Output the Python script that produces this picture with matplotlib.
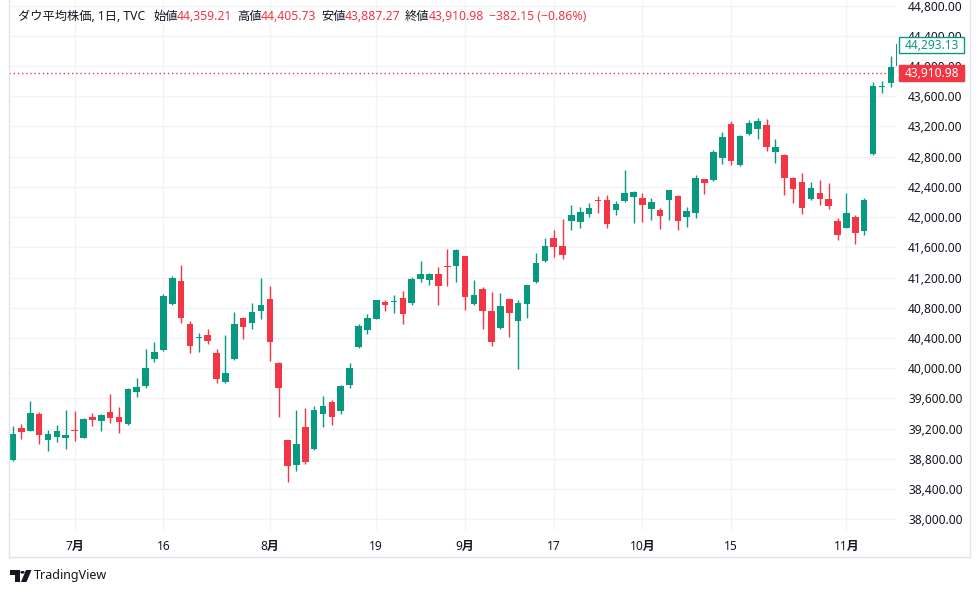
import matplotlib
matplotlib.use("Agg")
import matplotlib.pyplot as plt
from matplotlib.patches import Rectangle, Polygon, Circle
from matplotlib.lines import Line2D

plt.rcParams['font.family'] = ['Noto Sans', 'Noto Sans CJK JP', 'DejaVu Sans']

# ---------------- data (DJI daily, TVC) ----------------
dates = ["06-20", "06-21", "06-24", "06-25", "06-26", "06-27", "06-28",
         "07-01", "07-02", "07-03", "07-05", "07-08", "07-09", "07-10", "07-11", "07-12",
         "07-15", "07-16", "07-17", "07-18", "07-19", "07-22", "07-23", "07-24", "07-25",
         "07-26", "07-29", "07-30", "07-31",
         "08-01", "08-02", "08-05", "08-06", "08-07", "08-08", "08-09", "08-12", "08-13",
         "08-14", "08-15", "08-16", "08-19", "08-20", "08-21", "08-22", "08-23", "08-26",
         "08-27", "08-28", "08-29", "08-30",
         "09-03", "09-04", "09-05", "09-06", "09-09", "09-10", "09-11", "09-12", "09-13",
         "09-16", "09-17", "09-18", "09-19", "09-20", "09-23", "09-24", "09-25", "09-26",
         "09-27", "09-30",
         "10-01", "10-02", "10-03", "10-04", "10-07", "10-08", "10-09", "10-10", "10-11",
         "10-14", "10-15", "10-16", "10-17", "10-18", "10-21", "10-22", "10-23", "10-24",
         "10-25", "10-28", "10-29", "10-30", "10-31",
         "11-01", "11-04", "11-05", "11-06", "11-07", "11-08", "11-11"]

opens = [38785, 39204, 39173, 39393, 39054, 39093, 39080,
         39182, 39080, 39354, 39305, 39420, 39354, 39265, 39689, 39768,
         40126, 40245, 40853, 41154, 40585, 40400, 40439, 40204, 39821,
         40126, 40664, 40602, 40761,
         40916, 40069, 39050, 38719, 39226, 38930, 39398, 39553, 39437,
         39781, 40284, 40509, 40655, 40876, 40880, 40929, 40867, 41180,
         41171, 41247, 41345, 41356,
         41485, 40849, 41048, 40757, 40536, 40916, 40628, 40854, 41141,
         41423, 41723, 41617, 41948, 41935, 42041, 42226, 42226, 42094,
         42217, 42270,
         42253, 42111, 42094, 42230, 42279, 42005, 42058, 42504, 42495,
         42786, 43232, 42693, 43100, 43166, 43219, 42861, 42822, 42518,
         42466, 42243, 42319, 42239, 41948,
         41859, 42001, 41820, 42835, 43715, 43771, 44000]

highs = [39235, 39261, 39566, 39420, 39182, 39248, 39447,
         39433, 39345, 39407, 39398, 39658, 39490, 39738, 39870, 40254,
         40347, 40986, 41224, 41366, 40625, 40470, 40519, 40254, 40439,
         40744, 40681, 40863, 41194,
         41088, 40080, 39050, 39447, 39477, 39500, 39632, 39579, 39777,
         40069, 40585, 40717, 40902, 40902, 40969, 41022, 41211, 41419,
         41264, 41339, 41577, 41577,
         41490, 41167, 41075, 41009, 40995, 40930, 40902, 41101, 41525,
         41723, 41829, 41974, 42160, 42133, 42187, 42279, 42296, 42217,
         42623, 42345,
         42319, 42253, 42120, 42362, 42296, 42133, 42557, 42504, 42888,
         43127, 43272, 43088, 43285, 43311, 43298, 43034, 42840, 42530,
         42583, 42466, 42491, 42452, 41988,
         42319, 42028, 42252, 43784, 43801, 44136, 44486]

lows = [38776, 39063, 39173, 39000, 38908, 39027, 38934,
        39040, 39075, 39239, 39173, 39278, 39146, 39252, 39623, 39740,
        40080, 40230, 40840, 40602, 40205, 40218, 40324, 39808, 39800,
        40110, 40390, 40523, 40655,
        40099, 39358, 38498, 38643, 38732, 38917, 39226, 39252, 39398,
        39742, 40270, 40456, 40650, 40761, 40734, 40589, 40840, 41145,
        41105, 40840, 41092, 41145,
        40774, 40836, 40518, 40298, 40518, 40417, 39993, 40668, 41130,
        41410, 41476, 41445, 41829, 41855, 42001, 42054, 41855, 42028,
        42200, 41926,
        41939, 41965, 41846, 41965, 41833, 41873, 41992, 42309, 42480,
        42706, 42693, 42680, 43090, 43034, 42875, 42716, 42296, 42190,
        42045, 42230, 42164, 42110, 41700,
        41850, 41648, 41767, 42820, 43638, 43725, 43970]

closes = [39134.76, 39150.33, 39411.21, 39112.16, 39127.80, 39164.06, 39118.86,
          39169.52, 39331.85, 39308.00, 39375.87, 39344.79, 39291.97, 39721.36, 39753.75, 40000.90,
          40211.72, 40954.48, 41198.08, 40665.02, 40287.53, 40415.44, 40358.09, 39853.87, 39935.07,
          40589.34, 40539.93, 40743.33, 40842.79,
          40347.97, 39737.26, 38703.27, 38997.66, 38763.45, 39446.49, 39497.54, 39357.01, 39765.64,
          40008.39, 40563.06, 40659.76, 40896.53, 40834.97, 40890.49, 40712.78, 41175.08, 41240.52,
          41250.50, 41091.42, 41335.05, 41563.08,
          40936.93, 40974.97, 40755.75, 40345.41, 40829.59, 40736.96, 40861.71, 41096.77, 41393.78,
          41622.08, 41606.18, 41503.10, 42025.19, 42063.36, 42124.65, 42208.22, 41914.75, 42175.11,
          42313.00, 42330.15,
          42156.97, 42196.52, 42011.59, 42352.75, 41954.24, 42080.37, 42512.00, 42454.12, 42863.86,
          43065.22, 42740.42, 43077.70, 43239.05, 43275.91, 42931.60, 42924.89, 42514.95, 42374.36,
          42114.40, 42387.57, 42233.05, 42141.54, 41763.46,
          42052.19, 41794.60, 42221.88, 43729.93, 43729.34, 43988.99, 44293.13]

tick_dates = ["07-01", "07-16", "08-01", "08-19", "09-03", "09-17", "10-01", "10-15", "11-01"]
tick_labels = ["7月", "16", "8月", "19", "9月", "17", "10月", "15", "11月"]

price_ticks = list(range(38000, 44801, 400))

header_title = "ダウ平均株価, 1日, TVC"
header_open, header_high, header_low, header_close = "44,359.21", "44,405.73", "43,887.27", "43,910.98"
header_change = "−382.15 (−0.86%)"
last_price = 43910.98
prev_close = 44293.13

# ---------------- style ----------------
UP = "#089981"
DOWN = "#f23645"
GRID = "#f2f3f6"
TEXT = "#131722"
BORDER = "#e0e3eb"
W, H = 980, 593

fig = plt.figure(figsize=(W / 100, H / 100), dpi=100)
fig.patch.set_facecolor("white")
ax = fig.add_axes([9 / W, 63 / H, 888 / W, 530 / H])
ax.set_facecolor("white")

n = len(dates)
xs = list(range(n))
colors = [UP if c >= o else DOWN for o, c in zip(opens, closes)]

# wicks
ax.vlines(xs, lows, highs, colors=colors, linewidth=1.0, zorder=3)
# bodies
min_h = 14
bottoms = [min(o, c) for o, c in zip(opens, closes)]
heights = [max(abs(c - o), min_h) for o, c in zip(opens, closes)]
ax.bar(xs, heights, bottom=bottoms, width=0.74, color=colors, linewidth=0, zorder=4)

# last price dotted line
ax.axhline(last_price, color=DOWN, linestyle=(0, (1, 2)), linewidth=1.0, zorder=2)

ax.set_xlim(-0.40, 99.70)
ax.set_ylim(37858.4, 44872.9)

# grid and axes labels
ax.set_yticks(price_ticks)
ax.set_yticklabels([f"{p:,.2f}" for p in price_ticks])
tick_idx = [dates.index(d) for d in tick_dates]
ax.set_xticks(tick_idx)
ax.set_xticklabels(tick_labels)
ax.grid(True, color=GRID, linewidth=1.0, zorder=0)
ax.set_axisbelow(True)
ax.yaxis.tick_right()
ax.tick_params(axis="y", length=0, pad=8, labelsize=8.6, labelcolor=TEXT)
ax.tick_params(axis="x", length=0, pad=7, labelsize=8.6, labelcolor=TEXT)
for lab in ax.get_yticklabels():
    lab.set_horizontalalignment("left")
for lab, t in zip(ax.get_xticklabels(), tick_labels):
    if "月" in t:
        lab.set_fontweight("bold")
for s in ax.spines.values():
    s.set_visible(False)

# outer frame
def px_line(x0, y0, x1, y1, color=BORDER, lw=1.0):
    fig.add_artist(Line2D([x0 / W, x1 / W], [1 - y0 / H, 1 - y1 / H],
                          transform=fig.transFigure, color=color, linewidth=lw))

px_line(9, 0, 9, 557)
px_line(969.5, 0, 969.5, 557)
px_line(9, 557, 969.5, 557)

# price label boxes
def px_rect(x, y, w, h, fc, ec):
    fig.add_artist(Rectangle((x / W, 1 - (y + h) / H), w / W, h / H,
                             transform=fig.transFigure, facecolor=fc, edgecolor=ec,
                             linewidth=1.0, zorder=5))

px_rect(899, 37, 65, 16, "white", UP)
fig.text(931.5 / W, 1 - 45.5 / H, f"{prev_close:,.2f}", color=UP, fontsize=8.6,
         ha="center", va="center", zorder=6)
px_rect(899, 65, 65, 16, DOWN, DOWN)
fig.text(931.5 / W, 1 - 73.5 / H, f"{last_price:,.2f}", color="white", fontsize=8.6,
         ha="center", va="center", zorder=6)

# header
hy = 1 - 16.5 / H
hs = 8.8
pieces = [
    (18, header_title, TEXT),
    (153, "始値", TEXT), (177, header_open, DOWN),
    (237, "高値", TEXT), (261, header_high, DOWN),
    (321, "安値", TEXT), (345, header_low, DOWN),
    (405, "終値", TEXT), (429, header_close, DOWN),
    (489, header_change, DOWN),
]
for x, t, c in pieces:
    fig.text(x / W, hy, t, color=c, fontsize=hs, ha="left", va="center")

# TradingView logo
fig.add_artist(Polygon([(10 / W, 1 - 570 / H), (19.5 / W, 1 - 570 / H), (19.5 / W, 1 - 582 / H),
                        (15 / W, 1 - 582 / H), (15 / W, 1 - 574.5 / H), (10 / W, 1 - 574.5 / H)],
                       closed=True, transform=fig.transFigure, facecolor=TEXT, edgecolor="none"))
fig.add_artist(Circle((22.5 / W, 1 - 572.3 / H), 2.2 / W, transform=fig.transFigure,
                      facecolor=TEXT, edgecolor="none"))
fig.add_artist(Polygon([(26 / W, 1 - 570 / H), (31.5 / W, 1 - 570 / H), (26.5 / W, 1 - 582 / H),
                        (21 / W, 1 - 582 / H)],
                       closed=True, transform=fig.transFigure, facecolor=TEXT, edgecolor="none"))
fig.text(34 / W, 1 - 576 / H, "TradingView", color=TEXT, fontsize=9, ha="left", va="center")

fig.savefig("out.png", dpi=100, facecolor="white")
